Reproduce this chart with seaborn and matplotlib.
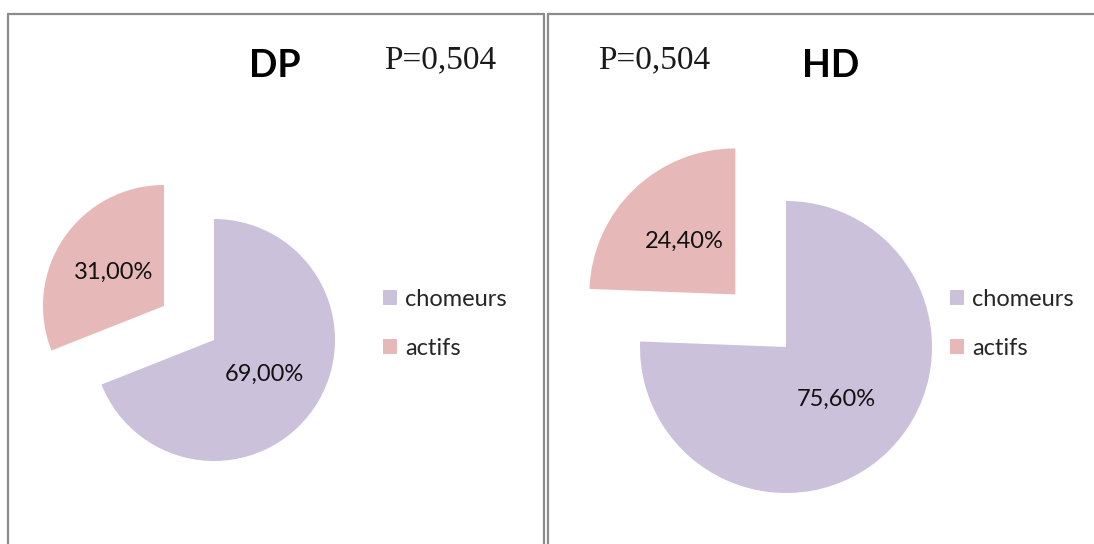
import matplotlib
matplotlib.use("Agg")
import matplotlib.pyplot as plt
import seaborn as sns
from matplotlib.lines import Line2D
from matplotlib.patches import Patch

OUTPUT_FILE = "out.png"
W, H = 1094, 544

# chart data
GROUPS = ["DP", "HD"]
CATEGORIES = ["chomeurs", "actifs"]
DP_VALUES = [69.0, 31.0]
HD_VALUES = [75.6, 24.4]
P_LABELS = ["P=0,504", "P=0,504"]
COLORS = ["#CCC1DA", "#E6B9B8"]

# layout in pixels (x, y from top-left)
LAYOUT = {
    "DP": dict(center=(214, 340), radius=121, legend=(383, 324),
               title=(275, 66), pval=(440, 60)),
    "HD": dict(center=(786, 347), radius=146, legend=(950, 324),
               title=(831, 66), pval=(654, 60)),
}


def fx(x):
    return x / W


def fy(y):
    return 1 - y / H


def pct_label(p):
    return f"{p:.2f}%".replace(".", ",")


def draw_borders(fig):
    c = "#8c8c8c"
    segs = [((7.5, 544), (14, 14)), ((7.5, 7.5), (14, H)),
            ((544, 544), (14, H)), ((547.5, 547.5), (14, H)),
            ((547.5, W), (14, 14))]
    for xs, ys in segs:
        fig.add_artist(Line2D([fx(x) for x in xs], [fy(y) for y in ys],
                              color=c, lw=1.6, transform=fig.transFigure))


def draw_pie(fig, name, values):
    lay = LAYOUT[name]
    cx, cy = lay["center"]
    r = lay["radius"]
    ext = 1.6
    ax = fig.add_axes([fx(cx - r * ext), fy(cy + r * ext),
                       2 * r * ext / W, 2 * r * ext / H])
    ax.pie(values, colors=COLORS, startangle=90, counterclock=False,
           explode=[0, 0.5], autopct=pct_label, pctdistance=0.5,
           wedgeprops=dict(linewidth=0),
           textprops=dict(fontsize=17, color="#111111", family="Lato"))
    ax.set_xlim(-ext, ext)
    ax.set_ylim(-ext, ext)
    ax.set_aspect("auto")
    ax.axis("off")

    handles = [Patch(facecolor=c, edgecolor="none") for c in COLORS]
    lx, ly = lay["legend"]
    fig.legend(handles, CATEGORIES, loc="center left",
               bbox_to_anchor=(fx(lx), fy(ly)), frameon=False,
               borderpad=0, borderaxespad=0, handlelength=0.6,
               handleheight=0.6, handletextpad=0.35, labelspacing=1.2,
               prop=dict(family="Lato", size=17))

    tx, ty = lay["title"]
    fig.text(fx(tx), fy(ty), name, ha="center", va="center",
             fontsize=27, fontweight="bold", family="Lato", color="black")


def main():
    sns.set_theme(style="white")
    plt.rcParams["font.family"] = ["Lato", "DejaVu Sans"]
    fig = plt.figure(figsize=(W / 100, H / 100), dpi=100)
    fig.patch.set_facecolor("white")
    draw_borders(fig)
    for name, values, plab in zip(GROUPS, [DP_VALUES, HD_VALUES], P_LABELS):
        draw_pie(fig, name, values)
        px, py = LAYOUT[name]["pval"]
        fig.text(fx(px), fy(py), plab, ha="center", va="center",
                 fontsize=24, family="Liberation Serif", color="#1a1a1a")
    fig.savefig(OUTPUT_FILE, dpi=100, facecolor="white")


if __name__ == "__main__":
    main()
